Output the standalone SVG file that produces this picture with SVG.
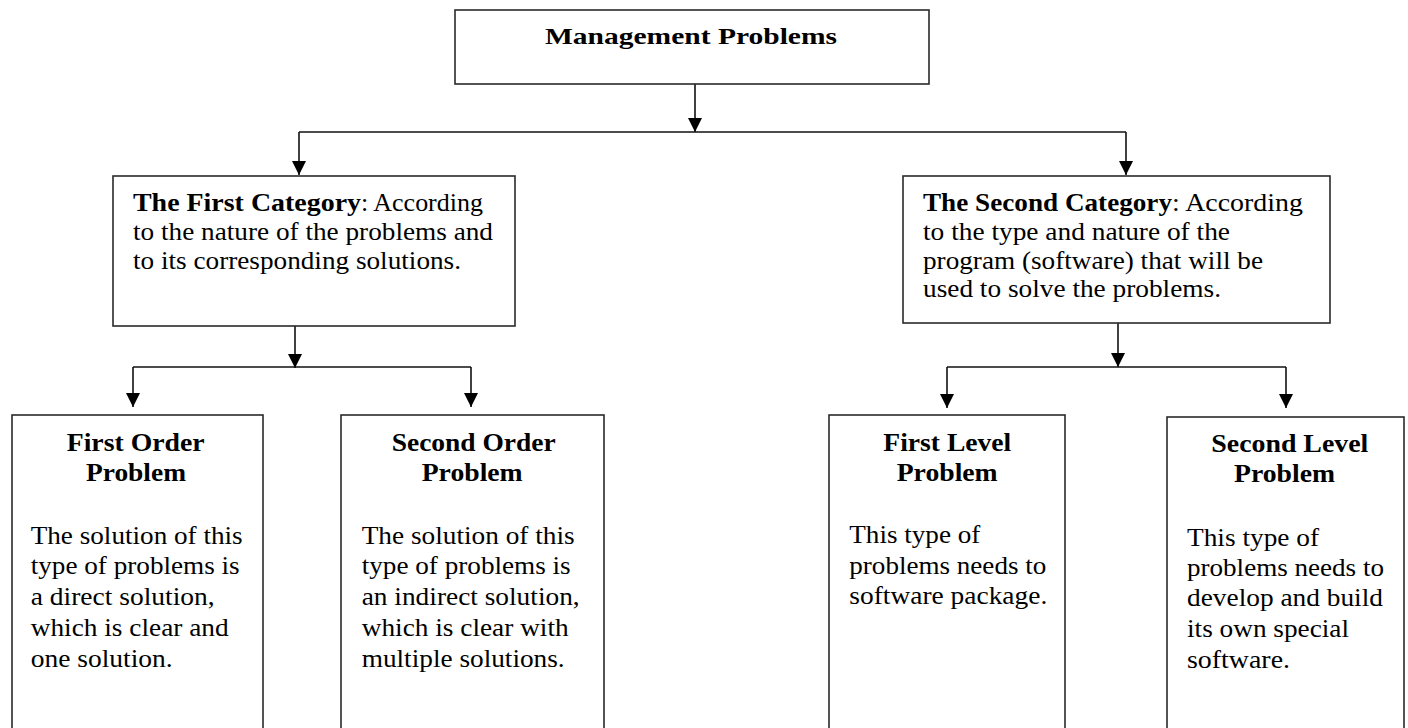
<svg xmlns="http://www.w3.org/2000/svg" width="1408" height="728" viewBox="0 0 1408 728">
<defs>
<style>
.box{fill:#fff;stroke:#2a2a2a;stroke-width:1.6}
.con{fill:none;stroke:#111;stroke-width:1.6}
text{font-family:"Liberation Serif","Times New Roman",serif;fill:#000}
.b{font-weight:bold;font-size:26px}
.t{font-weight:bold;font-size:24px}
.r{font-size:25.5px}
.c{font-size:24.5px}
</style>
<marker id="ah" markerUnits="userSpaceOnUse" markerWidth="14" markerHeight="14" viewBox="0 0 14 14" refX="14" refY="7" orient="auto">
<path d="M0,0 L14,7 L0,14 Z" fill="#000"/>
</marker>
</defs>
<rect width="1408" height="728" fill="#fff"/>

<g id="connectors">
<line class="con" x1="695" y1="84" x2="695" y2="132" marker-end="url(#ah)"/>
<line class="con" x1="299" y1="132" x2="1126" y2="132"/>
<line class="con" x1="299" y1="132" x2="299" y2="175" marker-end="url(#ah)"/>
<line class="con" x1="1126" y1="132" x2="1126" y2="175" marker-end="url(#ah)"/>
<line class="con" x1="295" y1="326" x2="295" y2="368" marker-end="url(#ah)"/>
<line class="con" x1="133" y1="367" x2="471" y2="367"/>
<line class="con" x1="133" y1="367" x2="133" y2="407" marker-end="url(#ah)"/>
<line class="con" x1="471" y1="367" x2="471" y2="407" marker-end="url(#ah)"/>
<line class="con" x1="1118" y1="323" x2="1118" y2="367" marker-end="url(#ah)"/>
<line class="con" x1="947" y1="367" x2="1286" y2="367"/>
<line class="con" x1="947" y1="367" x2="947" y2="408" marker-end="url(#ah)"/>
<line class="con" x1="1286" y1="367" x2="1286" y2="408" marker-end="url(#ah)"/>
</g>

<g id="management-problems">
<rect class="box" x="455" y="10" width="474" height="74"/>
<text class="t" x="545" y="44" textLength="292" lengthAdjust="spacingAndGlyphs">Management Problems</text>
</g>

<g id="first-category">
<rect class="box" x="113" y="176" width="402" height="150"/>
<text class="c" font-weight="bold" x="133" y="211" textLength="228" lengthAdjust="spacingAndGlyphs">The First Category</text>
<text class="c" x="361" y="211" textLength="122" lengthAdjust="spacingAndGlyphs">: According</text>
<text class="c" x="133" y="240" textLength="360" lengthAdjust="spacingAndGlyphs">to the nature of the problems and</text>
<text class="c" x="133" y="269" textLength="328" lengthAdjust="spacingAndGlyphs">to its corresponding solutions.</text>
</g>

<g id="second-category">
<rect class="box" x="903" y="176" width="427" height="147"/>
<text class="c" font-weight="bold" x="923" y="211" textLength="249" lengthAdjust="spacingAndGlyphs">The Second Category</text>
<text class="c" x="1172" y="211" textLength="131" lengthAdjust="spacingAndGlyphs">: According</text>
<text class="c" x="923" y="240" textLength="307" lengthAdjust="spacingAndGlyphs">to the type and nature of the</text>
<text class="c" x="923" y="269" textLength="340" lengthAdjust="spacingAndGlyphs">program (software) that will be</text>
<text class="c" x="923" y="297" textLength="298" lengthAdjust="spacingAndGlyphs">used to solve the problems.</text>
</g>

<g id="first-order-problem">
<rect class="box" x="12" y="415" width="251" height="330"/>
<text class="b" x="66.7" y="450.5" textLength="138" lengthAdjust="spacingAndGlyphs">First Order</text>
<text class="b" x="86" y="481" textLength="100" lengthAdjust="spacingAndGlyphs">Problem</text>
<text class="r" x="30.7" y="544" textLength="212" lengthAdjust="spacingAndGlyphs">The solution of this</text>
<text class="r" x="30.7" y="574" textLength="209" lengthAdjust="spacingAndGlyphs">type of problems is</text>
<text class="r" x="30.7" y="605" textLength="184" lengthAdjust="spacingAndGlyphs">a direct solution,</text>
<text class="r" x="30.7" y="636" textLength="198" lengthAdjust="spacingAndGlyphs">which is clear and</text>
<text class="r" x="30.7" y="667" textLength="142" lengthAdjust="spacingAndGlyphs">one solution.</text>
</g>

<g id="second-order-problem">
<rect class="box" x="341" y="415" width="263" height="330"/>
<text class="b" x="391.7" y="450.5" textLength="164" lengthAdjust="spacingAndGlyphs">Second Order</text>
<text class="b" x="421.7" y="481" textLength="101" lengthAdjust="spacingAndGlyphs">Problem</text>
<text class="r" x="361.7" y="544" textLength="213" lengthAdjust="spacingAndGlyphs">The solution of this</text>
<text class="r" x="361.7" y="574" textLength="209" lengthAdjust="spacingAndGlyphs">type of problems is</text>
<text class="r" x="361.7" y="605" textLength="218" lengthAdjust="spacingAndGlyphs">an indirect solution,</text>
<text class="r" x="361.7" y="636" textLength="207" lengthAdjust="spacingAndGlyphs">which is clear with</text>
<text class="r" x="361.7" y="667" textLength="203" lengthAdjust="spacingAndGlyphs">multiple solutions.</text>
</g>

<g id="first-level-problem">
<rect class="box" x="829" y="415" width="236" height="330"/>
<text class="b" x="883.3" y="450.5" textLength="128" lengthAdjust="spacingAndGlyphs">First Level</text>
<text class="b" x="896.7" y="481" textLength="101" lengthAdjust="spacingAndGlyphs">Problem</text>
<text class="r" x="849.3" y="543" textLength="131" lengthAdjust="spacingAndGlyphs">This type of</text>
<text class="r" x="849.3" y="574" textLength="197" lengthAdjust="spacingAndGlyphs">problems needs to</text>
<text class="r" x="849.3" y="604" textLength="198" lengthAdjust="spacingAndGlyphs">software package.</text>
</g>

<g id="second-level-problem">
<rect class="box" x="1167" y="417" width="237" height="330"/>
<text class="b" x="1211.3" y="452.3" textLength="157" lengthAdjust="spacingAndGlyphs">Second Level</text>
<text class="b" x="1234" y="482.3" textLength="101" lengthAdjust="spacingAndGlyphs">Problem</text>
<text class="r" x="1187" y="546" textLength="132" lengthAdjust="spacingAndGlyphs">This type of</text>
<text class="r" x="1187" y="576" textLength="197" lengthAdjust="spacingAndGlyphs">problems needs to</text>
<text class="r" x="1187" y="606" textLength="196" lengthAdjust="spacingAndGlyphs">develop and build</text>
<text class="r" x="1187" y="637" textLength="162" lengthAdjust="spacingAndGlyphs">its own special</text>
<text class="r" x="1187" y="668" textLength="103" lengthAdjust="spacingAndGlyphs">software.</text>
</g>
</svg>
